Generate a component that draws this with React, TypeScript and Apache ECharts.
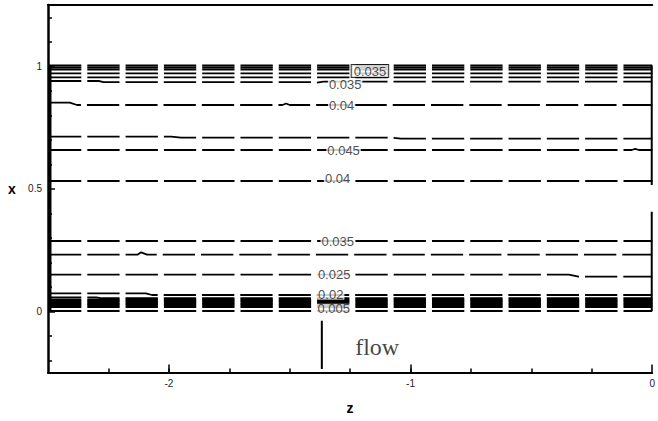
import { useEffect, useRef } from "react";
import * as echarts from "echarts";

// Axis ticks (z along the channel, x across it)
const zMinorTicks = [-2.25, -2, -1.75, -1.5, -1.25, -1, -0.75, -0.5, -0.25];
const zMajorTicks = [-2, -1, 0];
const xMinorTicks = [-0.2, -0.1, 0.1, 0.2, 0.3, 0.4, 0.6, 0.7, 0.8, 0.9, 1.1, 1.2];
const xMajorTicks = [0, 0.5, 1];

const zStart = -2.5;
const zEnd = 0;

// Contours that run straight along the whole channel (x level)
const upperBandLevels = [1.0031, 0.9949, 0.9867, 0.9712, 0.9549];
const midLevels = [0.5316, 0.2867];
const lowerBandLevels = [0.048, 0.0418, 0.0357, 0.0296, 0.0235, 0.0173, 0.001];

// Contours with small kinks, as [z, x] points
const contour0937 = [[-2.5, 0.9398], [-2.29, 0.9398], [-2.27, 0.9355], [-1.42, 0.9355], [-1.39, 0.933], [-1.36, 0.9369], [0, 0.9369]];
const contour0842 = [[-2.5, 0.8512], [-2.41, 0.8512], [-2.38, 0.8418], [-1.53, 0.8418], [-1.515, 0.848], [-1.5, 0.8418], [0, 0.8418]];
const contour0708 = [[-2.5, 0.7124], [-1.99, 0.7124], [-1.95, 0.7084], [-1.08, 0.7084], [-1.04, 0.7043], [0, 0.7043]];
const contour0658 = [[-2.5, 0.6582], [-0.085, 0.6582], [-0.07, 0.663], [-0.055, 0.6582], [0, 0.6582]];
const contour0231 = [[-2.5, 0.2308], [-2.13, 0.2308], [-2.115, 0.2406], [-2.09, 0.2308], [0, 0.2308]];
const contour0149 = [[-2.5, 0.1492], [-0.345, 0.1492], [-0.305, 0.141], [0, 0.141]];
const contour0073 = [[-2.5, 0.0733], [-2.095, 0.0733], [-2.07, 0.0663], [0, 0.0663]];
const contour0057 = [[-2.5, 0.0569], [-2.3, 0.0569], [-2.275, 0.053], [0, 0.053]];

// Contour pile-up along the inlet and outlet boundaries
const inletEdge = [[-2.4918, 0.001], [-2.4918, 1.0031]];
const outletEdgeUpper = [[-0.002, 1.0031], [-0.002, 0.515]];
const outletEdgeLower = [[-0.002, 0.4063], [-0.002, 0.001]];

// Contour level labels: [z, x, text]
const contourLabels = [
  [-1.2705, 0.925, "0.035"],
  [-1.285, 0.8418, "0.04"],
  [-1.277, 0.657, "0.045"],
  [-1.302, 0.5398, "0.04"],
  [-1.301, 0.2859, "0.035"],
  [-1.316, 0.149, "0.025"],
  [-1.33, 0.0676, "0.02"],
  [-1.318, 0.01, "0.005"],
];
const boxedLabels = [[-1.168, 0.9806, "0.035"]];

// Flow direction marker
const flowMarker = [[-1.367, -0.0386], [-1.367, -0.2357]];
const flowText = [[-1.138, -0.1459, "flow"]];

const FONT = "Liberation Sans, Arial, sans-serif";

const dashed = {
  color: "#000",
  width: 1.8,
  type: [32.3, 6] as number[],
  dashOffset: -1.4,
};

function lineSeries(data: number[][], style: any, z = 2) {
  return {
    type: "line",
    data,
    showSymbol: false,
    symbol: "none",
    silent: true,
    z,
    lineStyle: style,
  };
}

export default function App() {
  const ref = useRef<HTMLDivElement>(null);

  useEffect(() => {
    if (!ref.current) return;
    const chart = echarts.init(ref.current, null, { renderer: "svg" });

    const series: any[] = [];
    [...upperBandLevels, ...midLevels, ...lowerBandLevels].forEach((v) => {
      series.push(lineSeries([[zStart, v], [zEnd, v]], dashed));
    });
    [
      contour0937,
      contour0842,
      contour0708,
      contour0658,
      contour0231,
      contour0149,
      contour0073,
      contour0057,
    ].forEach((c) => series.push(lineSeries(c, dashed)));

    series.push(lineSeries(inletEdge, { color: "#000", width: 3 }, 3));
    series.push(lineSeries(outletEdgeUpper, { color: "#000", width: 2 }, 3));
    series.push(lineSeries(outletEdgeLower, { color: "#000", width: 2 }, 3));
    series.push(lineSeries(flowMarker, { color: "#000", width: 2 }, 3));

    const labelSeries = (data: any[], label: any) => ({
      type: "scatter",
      data,
      symbol: "circle",
      symbolSize: 1,
      itemStyle: { color: "rgba(0,0,0,0)" },
      silent: true,
      clip: false,
      z: 6,
      label: {
        show: true,
        position: "inside",
        formatter: (p: any) => p.data[2],
        ...label,
      },
    });

    series.push(
      labelSeries(contourLabels, {
        fontFamily: FONT,
        fontSize: 13,
        color: "#222",
        backgroundColor: "#fff",
        padding: [0, 1],
        lineHeight: 10,
      })
    );
    series.push(
      labelSeries(boxedLabels, {
        fontFamily: FONT,
        fontSize: 13,
        color: "#222",
        backgroundColor: "#fff",
        borderColor: "#000",
        borderWidth: 1,
        padding: [0, 2],
        lineHeight: 12,
      })
    );
    series.push(
      labelSeries(flowText, {
        fontFamily: "Liberation Serif, Times New Roman, serif",
        fontSize: 24,
        color: "#111",
      })
    );

    const baseX = {
      type: "value",
      min: zStart,
      max: zEnd,
      splitLine: { show: false },
    };
    const baseY = {
      type: "value",
      min: -0.25,
      max: 1.25,
      splitLine: { show: false },
    };
    const frameLine = (width: number) => ({
      show: true,
      onZero: false,
      lineStyle: { color: "#000", width },
    });
    const noLine = { show: false, onZero: false };

    chart.setOption({
      animation: false,
      backgroundColor: "#fff",
      grid: { left: 48, right: 1, top: 5, bottom: 48.5, containLabel: false },
      xAxis: [
        {
          ...baseX,
          position: "bottom",
          name: "z",
          nameLocation: "middle",
          nameGap: 35,
          nameTextStyle: {
            fontFamily: FONT,
            fontWeight: "bold",
            fontSize: 14,
            color: "#000",
            align: "center",
            verticalAlign: "middle",
          },
          axisLine: frameLine(2),
          axisTick: {
            show: true,
            inside: true,
            length: 4,
            customValues: zMinorTicks,
            lineStyle: { color: "#000", width: 1.5 },
          },
          axisLabel: { show: false },
        },
        {
          ...baseX,
          position: "bottom",
          axisLine: noLine,
          axisTick: {
            show: true,
            inside: true,
            length: 8,
            customValues: zMajorTicks,
            lineStyle: { color: "#000", width: 1.5 },
          },
          axisLabel: {
            show: true,
            customValues: zMajorTicks,
            margin: 6,
            fontFamily: FONT,
            fontSize: 10,
            color: "#222",
            formatter: (v: number) => String(v),
          },
        },
        {
          ...baseX,
          position: "top",
          axisLine: frameLine(2),
          axisTick: { show: false },
          axisLabel: { show: false },
        },
      ],
      yAxis: [
        {
          ...baseY,
          position: "left",
          name: "x",
          nameLocation: "middle",
          nameGap: 36,
          nameRotate: 0,
          nameTextStyle: {
            fontFamily: FONT,
            fontWeight: "bold",
            fontSize: 14,
            color: "#000",
            align: "center",
            verticalAlign: "middle",
          },
          axisLine: frameLine(2.5),
          axisTick: {
            show: true,
            inside: true,
            length: 4,
            customValues: xMinorTicks,
            lineStyle: { color: "#000", width: 1.5 },
          },
          axisLabel: { show: false },
        },
        {
          ...baseY,
          position: "left",
          axisLine: noLine,
          axisTick: {
            show: true,
            inside: true,
            length: 7,
            customValues: xMajorTicks,
            lineStyle: { color: "#000", width: 1.5 },
          },
          axisLabel: {
            show: true,
            customValues: xMajorTicks,
            margin: 6,
            fontFamily: FONT,
            fontSize: 10,
            color: "#222",
            formatter: (v: number) => String(v),
          },
        },
      ],
      series,
    });

    return () => chart.dispose();
  }, []);

  return (
    <div
      ref={ref}
      style={{ position: "fixed", left: 0, top: 0, width: 658, height: 421 }}
    />
  );
}
